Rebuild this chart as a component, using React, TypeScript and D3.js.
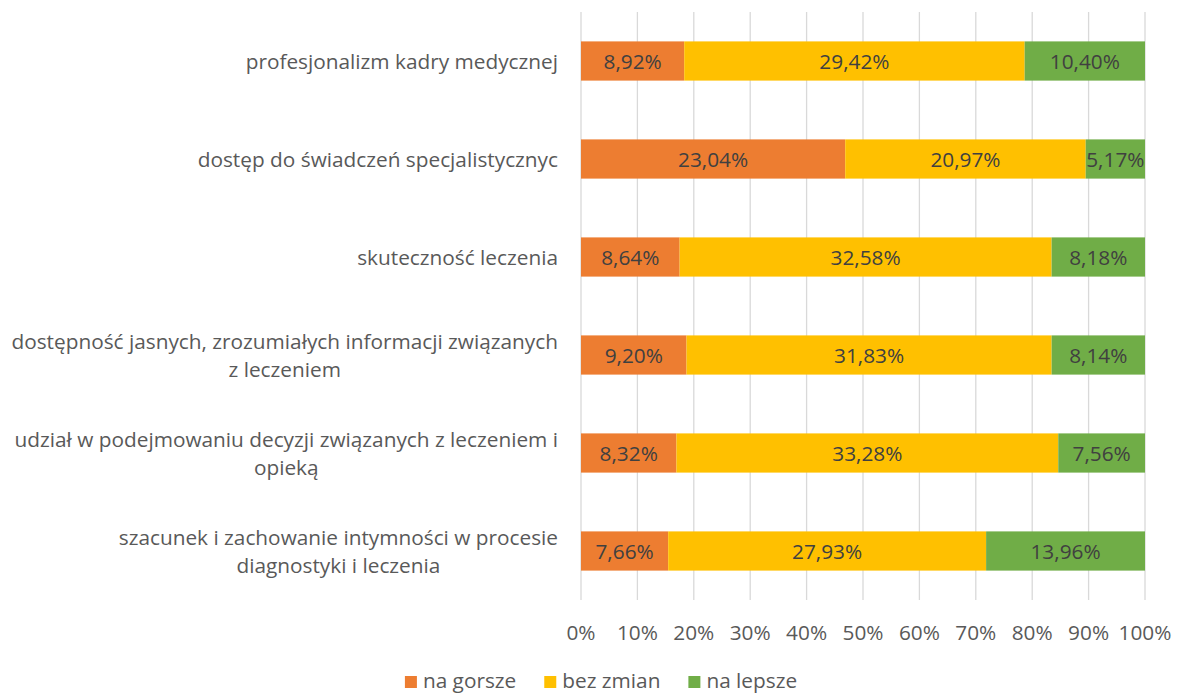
import React, { useEffect, useRef } from "react";
import * as d3 from "d3";

const categories: string[][] = [
  ["profesjonalizm kadry medycznej"],
  ["dostęp do świadczeń specjalistycznyc"],
  ["skuteczność leczenia"],
  ["dostępność jasnych, zrozumiałych informacji związanych", "z leczeniem"],
  ["udział w podejmowaniu decyzji związanych z leczeniem i", "opieką"],
  ["szacunek i zachowanie intymności w procesie", "diagnostyki i leczenia"],
];
const seriesNames = ["na gorsze", "bez zmian", "na lepsze"];
const naGorsze = [8.92, 23.04, 8.64, 9.2, 8.32, 7.66];
const bezZmian = [29.42, 20.97, 32.58, 31.83, 33.28, 27.93];
const naLepsze = [10.4, 5.17, 8.18, 8.14, 7.56, 13.96];
const tickValues = [0, 0.1, 0.2, 0.3, 0.4, 0.5, 0.6, 0.7, 0.8, 0.9, 1];
const colors = ["#ED7D31", "#FFC000", "#70AD47"];

const W = 1179;
const H = 695;
const FONT = "'Open Sans', sans-serif";
const FS = 20.8;

export default function App() {
  const ref = useRef<SVGSVGElement>(null);

  useEffect(() => {
    const svg = d3.select(ref.current);
    svg.selectAll("*").remove();

    const left = 581, right = 1145, top = 12, bottom = 600;
    const keys = categories.map((c) => c.join(" "));
    const rows = keys.map((k, i) => ({
      key: k,
      "na gorsze": naGorsze[i],
      "bez zmian": bezZmian[i],
      "na lepsze": naLepsze[i],
    }));
    const stack = d3.stack<any>().keys(seriesNames).offset(d3.stackOffsetExpand);
    const stacked = stack(rows);

    const x = d3.scaleLinear().domain([0, 1]).range([left, right]);
    const y = d3.scaleBand<string>().domain(keys).range([top, bottom]).paddingInner(0.6).paddingOuter(0.3);

    svg.append("g").selectAll("line").data(tickValues).join("line")
      .attr("x1", (d) => x(d)).attr("x2", (d) => x(d))
      .attr("y1", top).attr("y2", bottom)
      .attr("stroke", "#d9d9d9").attr("stroke-width", 1.3);

    svg.append("g").selectAll("text").data(tickValues).join("text")
      .attr("x", (d) => x(d)).attr("y", 632)
      .attr("text-anchor", "middle").attr("dominant-baseline", "central")
      .attr("font-family", FONT).attr("font-size", FS).attr("fill", "#595959")
      .text((d) => `${Math.round(d * 100)}%`);

    const raw = [naGorsze, bezZmian, naLepsze];
    stacked.forEach((layer, si) => {
      const g = svg.append("g");
      g.selectAll("rect").data(layer).join("rect")
        .attr("x", (d) => x(d[0])).attr("width", (d) => x(d[1]) - x(d[0]))
        .attr("y", (d: any) => y(d.data.key)!).attr("height", y.bandwidth())
        .attr("fill", colors[si]);
      g.selectAll("text").data(layer).join("text")
        .attr("x", (d) => (x(d[0]) + x(d[1])) / 2)
        .attr("y", (d: any) => y(d.data.key)! + y.bandwidth() / 2)
        .attr("text-anchor", "middle").attr("dominant-baseline", "central")
        .attr("font-family", FONT).attr("font-size", FS).attr("fill", "#404040")
        .text((_d, i) => raw[si][i].toFixed(2).replace(".", ",") + "%");
    });

    const labelRight = 558;
    const lineH = 28;
    categories.forEach((lines, i) => {
      const cy = y(keys[i])! + y.bandwidth() / 2;
      const g = svg.append("g");
      const texts = lines.map((ln, li) =>
        g.append("text")
          .attr("y", cy + (li - (lines.length - 1) / 2) * lineH)
          .attr("dominant-baseline", "central")
          .attr("text-anchor", "middle")
          .attr("font-family", FONT).attr("font-size", FS).attr("fill", "#595959")
          .text(ln)
      );
      const maxW = d3.max(texts, (t) => (t.node() as SVGTextElement).getComputedTextLength()) || 0;
      texts.forEach((t) => t.attr("x", labelRight - maxW / 2));
    });

    const legendY = 680;
    const lg = svg.append("g");
    const sq = 12, gapSq = 6, gapItem = 28;
    const items = seriesNames.map((n, i) => {
      const t = lg.append("text").attr("y", legendY).attr("dominant-baseline", "central")
        .attr("font-family", FONT).attr("font-size", FS).attr("fill", "#595959").text(n);
      const w = (t.node() as SVGTextElement).getComputedTextLength();
      return { t, w, i };
    });
    const total = d3.sum(items, (it) => sq + gapSq + it.w) + gapItem * (items.length - 1);
    let cx = 601 - total / 2;
    items.forEach((it) => {
      lg.append("rect").attr("x", cx).attr("y", legendY + 2 - sq / 2).attr("width", sq).attr("height", sq).attr("fill", colors[it.i]);
      it.t.attr("x", cx + sq + gapSq);
      cx += sq + gapSq + it.w + gapItem;
    });
  }, []);

  return (
    <svg ref={ref} width={W} height={H} style={{ position: "absolute", left: 0, top: 0, background: "#fff" }} />
  );
}
